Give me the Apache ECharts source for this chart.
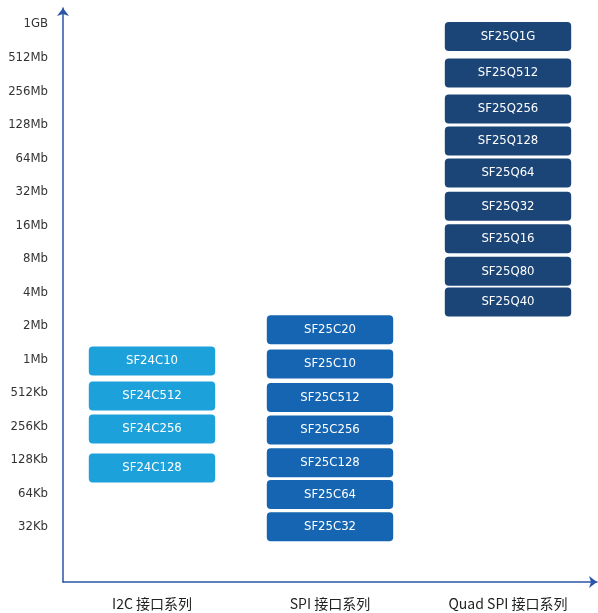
<!DOCTYPE html>
<html>
<head>
<meta charset="utf-8">
<script src="https://cdn.jsdelivr.net/npm/echarts@6/dist/echarts.min.js"></script>
<style>html,body{margin:0;padding:0;background:#fff}#c{width:598px;height:613px}</style>
</head>
<body>
<div id="c"></div>
<script>
const categories = ['I2C 接口系列', 'SPI 接口系列', 'Quad SPI 接口系列'];
const sizeLabels = ['32Kb','64Kb','128Kb','256Kb','512Kb','1Mb','2Mb','4Mb','8Mb','16Mb','32Mb','64Mb','128Mb','256Mb','512Mb','1GB'];

const i2cParts = ['SF24C10','SF24C512','SF24C256','SF24C128'];
const i2cLevels = [4.95, 3.91, 2.92, 1.76];

const spiParts = ['SF25C20','SF25C10','SF25C512','SF25C256','SF25C128','SF25C64','SF25C32'];
const spiLevels = [5.88, 4.86, 3.86, 2.89, 1.92, 0.97, 0.01];

const qspiParts = ['SF25Q1G','SF25Q512','SF25Q256','SF25Q128','SF25Q64','SF25Q32','SF25Q16','SF25Q80','SF25Q40'];
const qspiLevels = [14.63, 13.54, 12.47, 11.51, 10.56, 9.57, 8.60, 7.63, 6.71];

const FONT_NARROW = "'Liberation Sans Narrow','DejaVu Sans Condensed','Noto Sans',sans-serif";

function renderBox(params, api) {
  const c = api.coord([api.value(0), api.value(1)]);
  const band = api.size([1, 1]);
  const w = band[0] * 0.71;
  const h = band[1] * 0.865;
  return {
    type: 'rect',
    shape: { x: c[0] - w / 2, y: c[1] - h / 2, width: w, height: h, r: 4 },
    style: { fill: api.visual('color') },
    textContent: {
      style: {
        text: api.value(2),
        fill: '#ffffff',
        font: "13px " + FONT_NARROW
      }
    },
    textConfig: { position: 'inside' }
  };
}

function mk(parts, levels, col, color) {
  return {
    type: 'custom',
    renderItem: renderBox,
    itemStyle: { color: color },
    encode: { x: 0, y: 1 },
    data: parts.map((p, i) => [col, levels[i], p])
  };
}

const chart = echarts.init(document.getElementById('c'));
chart.setOption({
  animation: false,
  backgroundColor: '#ffffff',
  grid: { left: 63, right: 1, top: 8, bottom: 31 },
  xAxis: {
    type: 'category',
    data: categories,
    boundaryGap: true,
    axisLine: { show: true, onZero: false, symbol: ['none', 'arrow'], symbolSize: [9, 8], lineStyle: { color: '#2b55a6', width: 1.5 } },
    axisTick: { show: false },
    axisLabel: { margin: 15, color: '#222', fontSize: 14, fontFamily: "'Noto Sans CJK SC', sans-serif" },
    splitLine: { show: false }
  },
  yAxis: {
    type: 'value',
    min: -1.64,
    max: 15.48,
    axisLine: { show: true, onZero: false, symbol: ['none', 'arrow'], symbolSize: [9, 8], lineStyle: { color: '#2b55a6', width: 1.5 } },
    axisTick: { show: false },
    splitLine: { show: false },
    axisLabel: {
      customValues: sizeLabels.map((_, i) => i),
      formatter: v => sizeLabels[Math.round(v)] || '',
      margin: 15,
      color: '#333',
      fontSize: 13,
      fontFamily: FONT_NARROW
    }
  },
  series: [
    mk(i2cParts, i2cLevels, 0, '#1da1db'),
    mk(spiParts, spiLevels, 1, '#1565b2'),
    mk(qspiParts, qspiLevels, 2, '#1b4577')
  ]
});
</script>
</body>
</html>
